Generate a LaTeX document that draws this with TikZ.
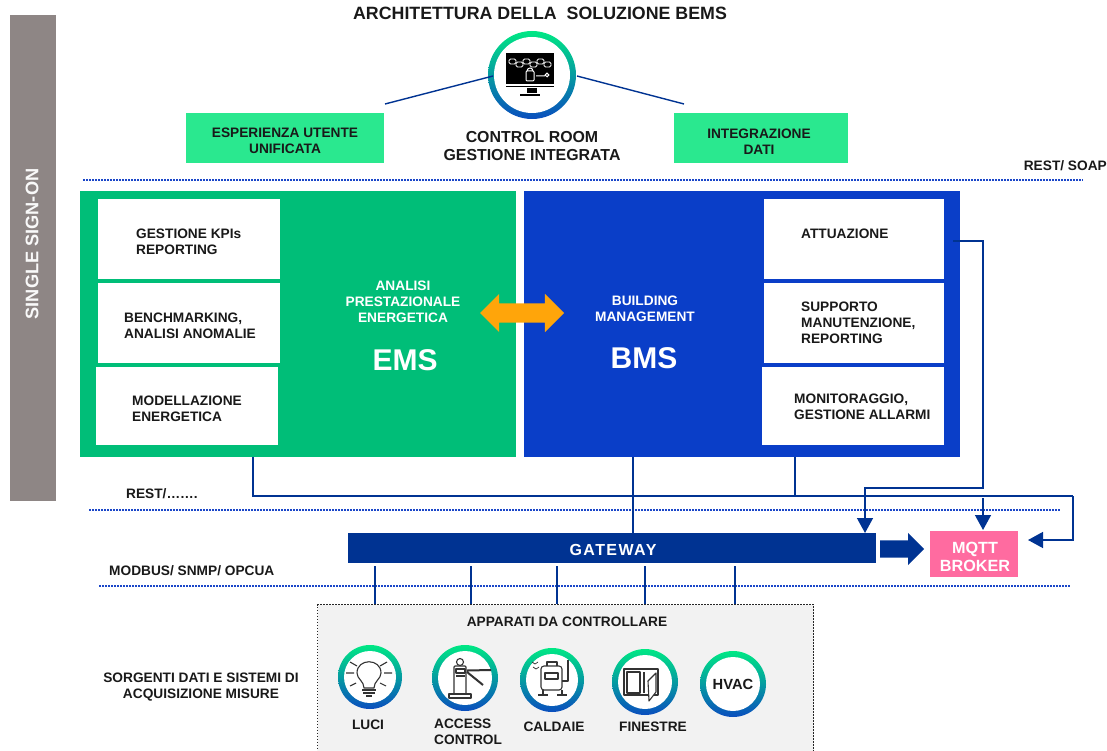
\documentclass[tikz,border=0pt]{standalone}
\usepackage{fontspec}
\setmainfont{Liberation Sans}
\usetikzlibrary{positioning,arrows.meta,shapes.arrows}
\definecolor{emsgreen}{HTML}{00BE78}
\definecolor{bmsblue}{HTML}{0A3EC8}
\definecolor{topgreen}{HTML}{2AE88F}
\definecolor{linkblue}{HTML}{003392}
\definecolor{dotblue}{HTML}{1A46C8}
\definecolor{sidegrey}{HTML}{8E8685}
\definecolor{mqttpink}{HTML}{FF6BA0}
\definecolor{swaporange}{HTML}{FFA50A}
\definecolor{devgrey}{HTML}{F2F2F2}
\definecolor{ringtop}{HTML}{00E884}
\definecolor{ringmid}{HTML}{00A89A}
\definecolor{ringbot}{HTML}{0A4EBE}
\tikzset{
  txt/.style={font=\bfseries\fontsize{13.7}{16}\selectfont, text=black!90, inner sep=0pt, align=left},
  txtc/.style={txt, align=center},
  wtxt/.style={txtc, text=white},
  panel/.style={anchor=north west, inner sep=0pt},
  whitebox/.style={panel, fill=white},
  ring/.style={circle, inner sep=0pt, minimum size=#1, top color=ringtop, middle color=ringmid, bottom color=ringbot},
  ringcore/.style={circle, inner sep=0pt, fill=white, minimum size=#1},
  link/.style={draw=linkblue, line width=1.4pt},
  linkarrow/.style={link, -{Triangle[length=15pt,width=16pt]}},
  dotline/.style={draw=dotblue, line width=1.5pt, dash pattern=on 1.5pt off 1.5pt},
  icon/.style={draw=black!80, line width=1.1pt, line join=round}
}
\begin{document}
\begin{tikzpicture}[x=1pt, y=-1pt]
  \useasboundingbox (0,0) rectangle (1107,751);

  % side bar and title
  \node[panel, fill=sidegrey, minimum width=46pt, minimum height=486pt] (side) at (10,15) {};
  \node[wtxt, rotate=90, font=\bfseries\fontsize{18.2}{20}\selectfont, text=white!95!sidegrey] (sso) at (32,244) {SINGLE SIGN-ON};
  \node[txtc, font=\bfseries\fontsize{17.8}{20}\selectfont] (title) at (540,13) {ARCHITETTURA DELLA\ \ SOLUZIONE BEMS};

  % control room
  \node[ring=88pt] (room) at (532,75) {};
  \node[ringcore=76pt] (roomcore) at (room) {};
  \node[txtc, font=\bfseries\fontsize{15.9}{18}\selectfont] (roomtxt) at (532,146.5) {CONTROL ROOM\\GESTIONE INTEGRATA};
  \node[panel, fill=topgreen, minimum width=198pt, minimum height=50pt] (esp) at (186,113) {};
  \node[panel, fill=topgreen, minimum width=174pt, minimum height=50pt] (integ) at (674,113) {};
  \node[txtc] (esptxt) at (285,141) {ESPERIENZA UTENTE\\UNIFICATA};
  \node[txtc] (integtxt) at (759,141.5) {INTEGRAZIONE\\DATI};
  \coordinate (espin) at (385,104);
  \coordinate (integin) at (684,104);
  \coordinate (roomw) at (493,76);
  \coordinate (roome) at (577,76);
  \path[link] (espin) edge (roomw) (roome) edge (integin);

  % screen icon
  \fill[black] (506,53) rectangle (554,84);
  \foreach \xa/\ya in {509/59,516/62,523/59,530/62,537/59,544/62}
    \draw[white, line width=0.9pt, rounded corners=1.5pt] (\xa,\ya) rectangle ++(7,5);
  \draw[white, line width=1pt, rounded corners=1pt] (526,71) rectangle (534,81);
  \draw[white, line width=1pt] (527,71) arc[start angle=180, end angle=0, radius=3pt];
  \draw[white, line width=1pt] (536,76) -- (545,76) (547,75) circle[radius=1.8pt];
  \draw[black, line width=1pt] (506,87) -- (554,87);
  \fill[black] (527,88) rectangle (537,93);
  \draw[black, line width=1.2pt] (520,95) -- (540,95);

  % dotted levels
  \coordinate (doa) at (83,180);
  \coordinate (dob) at (1083,180);
  \coordinate (dra) at (89,510);
  \coordinate (drb) at (1060,510);
  \coordinate (dma) at (99,586);
  \coordinate (dmb) at (1070,586);
  \path[dotline] (doa) edge (dob) (dra) edge (drb) (dma) edge (dmb);
  \node[txt, anchor=east] (soap) at (1107,166) {REST/ SOAP};
  \node[txt, anchor=west] (rest) at (126,494) {REST/…….};
  \node[txt, anchor=west] (modbus) at (109,571) {MODBUS/ SNMP/ OPCUA};

  % EMS block
  \node[panel, fill=emsgreen, minimum width=436pt, minimum height=266pt] (ems) at (80,191) {};
  \node[whitebox, minimum width=182pt, minimum height=80pt] (kpi) at (98,199) {};
  \node[whitebox, minimum width=182pt, minimum height=80pt] (bench) at (98,283) {};
  \node[whitebox, minimum width=182pt, minimum height=78pt] (model) at (96,367) {};
  \node[txt, right=38pt of kpi.west, yshift=-3pt] (kpitxt) {GESTIONE KPIs\\REPORTING};
  \node[txt, right=26pt of bench.west, yshift=-3pt] (benchtxt) {BENCHMARKING,\\ANALISI ANOMALIE};
  \node[txt, right=36pt of model.west, yshift=-3pt] (modeltxt) {MODELLAZIONE\\ENERGETICA};
  \node[wtxt] (emstxt) at (403,302) {ANALISI\\PRESTAZIONALE\\ENERGETICA};
  \node[wtxt, font=\bfseries\fontsize{30}{32}\selectfont] (emsname) at (405,360) {EMS};

  % BMS block
  \node[panel, fill=bmsblue, minimum width=436pt, minimum height=266pt] (bms) at (524,191) {};
  \node[whitebox, minimum width=180pt, minimum height=80pt] (attua) at (764,199) {};
  \node[whitebox, minimum width=180pt, minimum height=80pt] (manut) at (764,283) {};
  \node[whitebox, minimum width=182pt, minimum height=78pt] (allarmi) at (762,367) {};
  \node[txt, right=37pt of attua.west, yshift=5pt] (attuatxt) {ATTUAZIONE};
  \node[txt, right=37pt of manut.west] (manuttxt) {SUPPORTO\\MANUTENZIONE,\\REPORTING};
  \node[txt, right=32pt of allarmi.west, yshift=-1pt] (allarmitxt) {MONITORAGGIO,\\GESTIONE ALLARMI};
  \node[wtxt] (bmstxt) at (645,309) {BUILDING\\MANAGEMENT};
  \node[wtxt, font=\bfseries\fontsize{30}{32}\selectfont] (bmsname) at (644,358) {BMS};
  \node[double arrow, fill=swaporange, inner xsep=0pt, inner ysep=9.5pt, minimum height=84pt, double arrow head extend=9.5pt] (swap) at (522,313) {};

  % gateway and broker
  \node[panel, fill=linkblue, minimum width=528pt, minimum height=30pt] (gateway) at (348,533) {};
  \node[wtxt, font=\bfseries\fontsize{16}{18}\selectfont\addfontfeature{LetterSpace=9}] (gatetxt) at (613,549.5) {GATEWAY};
  \node[panel, fill=mqttpink, minimum width=88pt, minimum height=46pt] (mqtt) at (930,531) {};
  \node[wtxt, font=\bfseries\fontsize{16.2}{18}\selectfont] (mqtttxt) at (975,557) {MQTT\\BROKER};
  \node[single arrow, fill=linkblue, inner xsep=0pt, inner ysep=8.5pt, minimum height=44pt, single arrow head extend=7.5pt, anchor=tail] (push) at (880,549) {};

  % connectors
  \coordinate (rjoin) at (253,496);
  \coordinate (bjoin) at (795,496);
  \coordinate (rcorner) at (1073,496);
  \coordinate (mqttin) at (1028,540);
  \coordinate (topin) at (983,498);
  \coordinate (topout) at (983,530);
  \coordinate (attin) at (953,241);
  \coordinate (attout) at (983,488);
  \coordinate (gwin) at (865,533);
  \draw[link] (ems.south -| rjoin) -- (rjoin) -- (rcorner);
  \draw[linkarrow] (rcorner) -- (rcorner |- mqttin) -- (mqttin);
  \draw[link] (bms.south -| bjoin) -- (bjoin);
  \draw[link] (bms.south -| 633,0) -- (gateway.north -| 633,0);
  \draw[linkarrow] (attin) -- (attin -| attout) -- (attout) -- (attout -| gwin) -- (gwin);
  \draw[linkarrow] (topin) -- (topout);

  % field devices
  \node[panel, fill=devgrey, draw=black!85, line width=1.2pt, dash pattern=on 1.5pt off 1.5pt, minimum width=496pt, minimum height=170pt] (dev) at (317,604) {};
  \node[txtc] (devtxt) at (567,622) {APPARATI DA CONTROLLARE};
  \node[txtc] (srctxt) at (201,687) {SORGENTI DATI E SISTEMI DI\\ACQUISIZIONE MISURE};
  \coordinate (gd1) at (375,604);
  \coordinate (gd2) at (471,604);
  \coordinate (gd3) at (557,604);
  \coordinate (gd4) at (645,604);
  \coordinate (gd5) at (735,604);
  \path[link, shorten <=3pt]
    (gateway.south -| gd1) edge (gd1)
    (gateway.south -| gd2) edge (gd2)
    (gateway.south -| gd3) edge (gd3)
    (gateway.south -| gd4) edge (gd4)
    (gateway.south -| gd5) edge (gd5);

  \node[ring=64pt] (luci) at (370,677) {};
  \node[ringcore=52pt] (lucicore) at (luci) {};
  \node[ring=66pt] (access) at (465,678) {};
  \node[ringcore=54pt] (accesscore) at (access) {};
  \node[ring=64pt] (caldaie) at (552,680) {};
  \node[ringcore=52pt] (caldaiecore) at (caldaie) {};
  \node[ring=66pt] (finestre) at (645,682) {};
  \node[ringcore=54pt] (finestrecore) at (finestre) {};
  \node[ring=66pt] (hvac) at (733,684) {};
  \node[ringcore=54pt, txtc, font=\bfseries\fontsize{14.7}{16}\selectfont] (hvaccore) at (hvac) {\raisebox{-2pt}{HVAC}};
  \node[txtc] (lucitxt) at (368,725) {LUCI};
  \node[txt, anchor=west] (accesstxt) at (434,732) {ACCESS\\CONTROL};
  \node[txtc] (caldaietxt) at (554,727) {CALDAIE};
  \node[txtc] (finestretxt) at (653,727) {FINESTRE};

  % bulb
  \draw[icon] (364,688) .. controls (364,681) and (357,679) .. (357,673)
    .. controls (357,658) and (381,658) .. (381,673)
    .. controls (381,679) and (374,681) .. (374,688) -- cycle;
  \draw[icon] (362,690) -- (376,690) (363,693) -- (375,693) (366,696) -- (372,696);
  \draw[icon] (346,673) -- (354,673) (384,673) -- (392,673)
    (350,662) -- (357,666) (380,666) -- (387,662)
    (350,686) -- (356,683) (380,683) -- (386,686);

  % turnstile
  \draw[icon, rounded corners=1pt] (454,694) -- (454,666) -- (466,666) -- (466,694);
  \draw[icon] (449,694) rectangle (471,698);
  \draw[icon] (460,662) circle[radius=3.5pt];
  \draw[icon] (456,669) rectangle (465,673);
  \draw[icon] (456,676) -- (465,676);
  \draw[icon, line width=2pt] (467,670.5) -- (491,670) (467,672) -- (483,685);

  % boiler
  \draw[icon, rounded corners=3pt] (541,666) -- (562,666) -- (562,690) -- (541,690) -- cycle;
  \draw[icon] (547,666) -- (547,662) -- (557,662) -- (557,666);
  \draw[icon] (545,673) rectangle (558,679);
  \draw[icon, line width=2pt] (562,681) -- (567.5,681) -- (567.5,660);
  \draw[icon, line width=1.6pt] (538,695) -- (548,695) (557,695) -- (567,695) (543,690) -- (543,695) (562,690) -- (562,695);
  \draw[icon, line width=0.7pt] (532,662) -- (535,664) -- (538,662) (533,667) -- (536,669) -- (539,667);

  % window
  \draw[icon, line width=1.3pt] (624,669) rectangle (658,695);
  \draw[icon] (627,672) rectangle (640,693) (644,672) -- (644,693);
  \draw[icon, fill=white] (648,681) -- (656,673) -- (656,692) -- (649,701) -- cycle;
\end{tikzpicture}
\end{document}
